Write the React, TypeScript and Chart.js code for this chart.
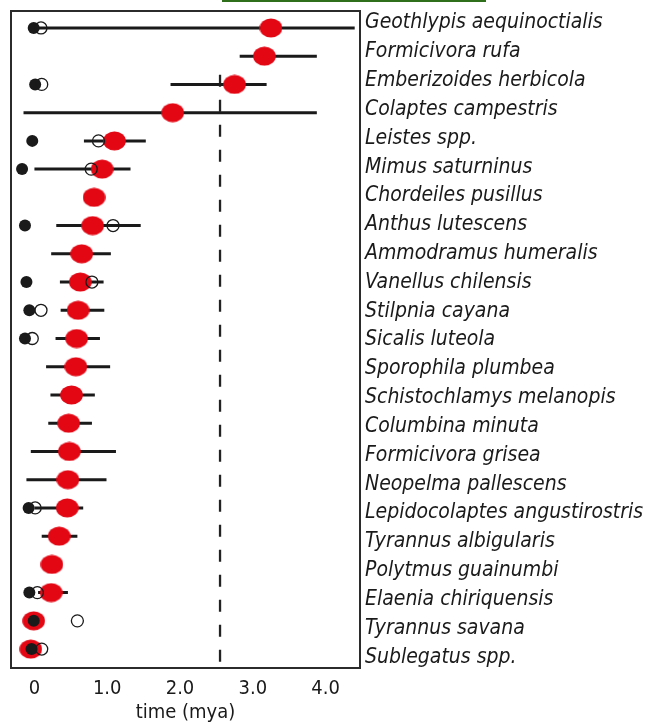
import React, { useEffect, useRef } from 'react';
import { Chart, registerables } from 'chart.js';

Chart.register(...registerables);

const species = [
  'Geothlypis aequinoctialis',
  'Formicivora rufa',
  'Emberizoides herbicola',
  'Colaptes campestris',
  'Leistes spp.',
  'Mimus saturninus',
  'Chordeiles pusillus',
  'Anthus lutescens',
  'Ammodramus humeralis',
  'Vanellus chilensis',
  'Stilpnia cayana',
  'Sicalis luteola',
  'Sporophila plumbea',
  'Schistochlamys melanopis',
  'Columbina minuta',
  'Formicivora grisea',
  'Neopelma pallescens',
  'Lepidocolaptes angustirostris',
  'Tyrannus albigularis',
  'Polytmus guainumbi',
  'Elaenia chiriquensis',
  'Tyrannus savana',
  'Sublegatus spp.',
];

const redAges = [3.25, 3.16, 2.75, 1.9, 1.1, 0.93, 0.82, 0.8, 0.65, 0.63, 0.6, 0.58, 0.57, 0.51, 0.47, 0.48, 0.46, 0.45, 0.34, 0.24, 0.23, -0.01, -0.05];
const ciLow: (number | null)[] = [0.05, 2.82, 1.87, -0.15, 0.68, 0.0, null, 0.3, 0.23, 0.35, 0.36, 0.29, 0.16, 0.22, 0.19, -0.05, -0.11, 0.0, 0.1, null, 0.05, null, null];
const ciHigh: (number | null)[] = [4.4, 3.88, 3.19, 3.88, 1.53, 1.32, null, 1.46, 1.05, 0.95, 0.96, 0.9, 1.04, 0.83, 0.79, 1.12, 0.99, 0.67, 0.59, null, 0.46, null, null];
const blackAges: (number | null)[] = [-0.01, null, 0.01, null, -0.03, -0.17, null, -0.13, null, -0.11, -0.07, -0.13, null, null, null, null, null, -0.08, null, null, -0.07, -0.01, -0.04];
const openAges: (number | null)[] = [0.09, null, 0.1, null, 0.88, 0.78, null, 1.08, null, 0.79, 0.09, -0.03, null, null, null, null, null, 0.01, null, null, 0.04, 0.59, 0.1];

const xTickValues = [0, 1, 2, 3, 4];
const xTickLabels = ['0', '1.0', '2.0', '3.0', '4.0'];
const boundaryAge = 2.55;
const boundaryFromRow = 1.66;

const labelFont = "'DejaVu Sans Condensed', 'DejaVu Sans', sans-serif";

export default function App() {
  const ref = useRef<HTMLCanvasElement>(null);

  useEffect(() => {
    const canvas = ref.current;
    if (!canvas) return;

    const ell = document.createElement('canvas');
    ell.width = 23;
    ell.height = 20;
    const ectx = ell.getContext('2d')!;
    ectx.fillStyle = '#e30613';
    ectx.beginPath();
    ectx.ellipse(11.5, 10, 11.3, 9.6, 0, 0, Math.PI * 2);
    ectx.fill();

    const barData: any[] = [];
    ciLow.forEach((lo, i) => {
      const hi = ciHigh[i];
      if (lo == null || hi == null) return;
      barData.push({ x: lo, y: i }, { x: hi, y: i }, { x: hi, y: null });
    });
    const pts = (arr: (number | null)[]) =>
      arr.map((v, i) => (v == null ? null : { x: v, y: i })).filter((p) => p !== null);

    const boxPlugin = {
      id: 'box',
      afterDraw(chart: any) {
        const { ctx, chartArea: a } = chart;
        ctx.save();
        ctx.strokeStyle = '#2b2b2b';
        ctx.lineWidth = 2;
        ctx.strokeRect(a.left, a.top, a.right - a.left, a.bottom - a.top);
        ctx.restore();
      },
    };

    const chart = new Chart(canvas, {
      type: 'line',
      data: {
        datasets: [
          {
            label: 'open',
            data: pts(openAges) as any,
            showLine: false,
            pointStyle: 'circle',
            pointRadius: 6,
            pointBorderWidth: 1.3,
            pointBackgroundColor: 'rgba(0,0,0,0)',
            pointBorderColor: '#1a1a1a',
            order: 1,
          },
          {
            label: 'black',
            data: pts(blackAges) as any,
            showLine: false,
            pointStyle: 'circle',
            pointRadius: 6,
            pointBorderWidth: 0,
            pointBackgroundColor: '#1a1a1a',
            pointBorderColor: '#1a1a1a',
            order: 2,
          },
          {
            label: 'red',
            data: pts(redAges) as any,
            showLine: false,
            pointStyle: ell as any,
            pointRadius: 10,
            order: 3,
          },
          {
            label: 'ci',
            data: barData,
            showLine: true,
            spanGaps: false,
            pointRadius: 0,
            borderWidth: 3,
            borderColor: '#1a1a1a',
            order: 4,
          },
          {
            label: 'boundary',
            data: [
              { x: boundaryAge, y: boundaryFromRow },
              { x: boundaryAge, y: species.length - 0.36 },
            ],
            showLine: true,
            pointRadius: 0,
            borderWidth: 2.3,
            borderColor: '#222',
            borderDash: [12, 13],
            order: 5,
          },
        ],
      },
      options: {
        animation: false,
        responsive: false,
        layout: { padding: { left: 10, top: 10, right: 0, bottom: 0 } },
        plugins: { legend: { display: false }, tooltip: { enabled: false } },
        scales: {
          x: {
            type: 'linear',
            min: -0.322,
            max: 4.473,
            grid: { display: false, drawTicks: false },
            border: { display: false },
            ticks: {
              padding: 9,
              color: '#1a1a1a',
              font: { family: labelFont, size: 20 },
              callback: (v: any) => {
                const i = xTickValues.indexOf(Number(v));
                return i >= 0 ? xTickLabels[i] : '';
              },
            },
            afterBuildTicks: (s: any) => {
              s.ticks = xTickValues.map((v) => ({ value: v }));
            },
            title: {
              display: true,
              text: 'time (mya)',
              color: '#1a1a1a',
              font: { family: labelFont, size: 20, lineHeight: 1.0 },
              padding: { top: 0, bottom: 0 },
            },
            afterFit: (s: any) => {
              s.height = 55;
              s.paddingLeft = 0;
              s.paddingRight = 0;
            },
          },
          y: {
            type: 'linear',
            display: false,
            min: -0.6,
            max: 22.67,
            reverse: true,
          },
          yLabels: {
            type: 'linear',
            position: 'right',
            min: -0.416,
            max: 22.38,
            reverse: true,
            grid: { display: false, drawTicks: false },
            border: { display: false },
            ticks: {
              padding: 5,
              autoSkip: false,
              color: '#1a1a1a',
              font: { family: labelFont, size: 21, style: 'italic' },
              callback: (v: any) => species[Number(v)] ?? '',
            },
            afterBuildTicks: (s: any) => {
              s.ticks = species.map((_, i) => ({ value: i }));
            },
            afterFit: (s: any) => {
              s.width = 289;
              s.paddingTop = 0;
              s.paddingBottom = 0;
            },
          },
        },
      },
      plugins: [boxPlugin],
    });

    return () => chart.destroy();
  }, []);

  return (
    <div style={{ position: 'fixed', left: 0, top: 0, width: 649, height: 723, background: '#fff' }}>
      <div style={{ position: 'absolute', left: 222, top: 0, width: 264, height: 2, background: '#2f6f1c' }} />
      <canvas ref={ref} width={649} height={723} style={{ display: 'block' }} />
    </div>
  );
}
